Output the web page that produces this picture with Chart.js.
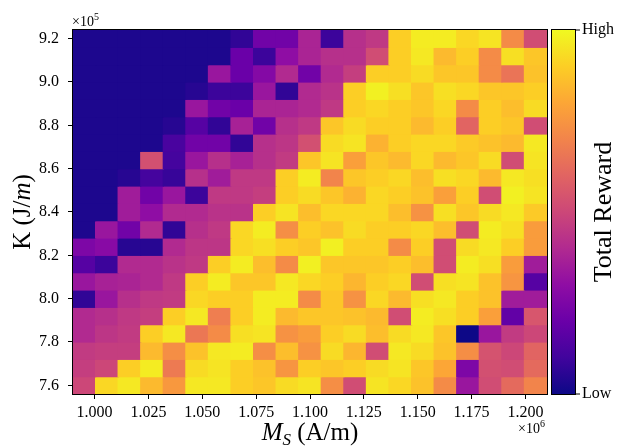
<!DOCTYPE html>
<html>
<head>
<meta charset="utf-8">
<script src="https://cdn.jsdelivr.net/npm/chart.js@4.4.0/dist/chart.umd.min.js"></script>
<style>
  html, body { margin: 0; padding: 0; background: #fff; }
  #wrap { width: 618px; height: 447px; }
</style>
</head>
<body>
<div id="wrap"><canvas id="heat" width="618" height="447"></canvas></div>
<script>
// M_S cell centres (x10^6 A/m), left to right
const msValues = [0.99524, 1.00571, 1.01619, 1.02667, 1.03714, 1.04762, 1.05810,
                  1.06857, 1.07905, 1.08952, 1.10000, 1.11048, 1.12095, 1.13143,
                  1.14190, 1.15238, 1.16286, 1.17333, 1.18381, 1.19429, 1.20476];
// K cell centres (x10^5 J/m), top row first
const kValues = [9.20, 9.12, 9.04, 8.96, 8.88, 8.80, 8.72, 8.64, 8.56, 8.48, 8.40,
                 8.32, 8.24, 8.16, 8.08, 8.00, 7.92, 7.84, 7.76, 7.68, 7.60];
const msTicks = [1.000, 1.025, 1.050, 1.075, 1.100, 1.125, 1.150, 1.175, 1.200];
const kTicks = [7.6, 7.8, 8.0, 8.2, 8.4, 8.6, 8.8, 9.0, 9.2];

// normalised total reward, one array per K row (0 = low, 1 = high)
const k920 = [0.03, 0.03, 0.03, 0.03, 0.03, 0.03, 0.03, 0.07, 0.22, 0.22, 0.38, 0.09, 0.42, 0.45, 0.90, 0.97, 0.97, 0.92, 0.95, 0.72, 0.52];
const k912 = [0.03, 0.03, 0.03, 0.03, 0.03, 0.03, 0.03, 0.20, 0.09, 0.30, 0.38, 0.42, 0.42, 0.52, 0.90, 0.96, 0.85, 0.90, 0.72, 0.94, 0.88];
const k904 = [0.03, 0.03, 0.03, 0.03, 0.03, 0.03, 0.33, 0.20, 0.27, 0.40, 0.22, 0.40, 0.47, 0.90, 0.90, 0.93, 0.88, 0.88, 0.72, 0.65, 0.87];
const k896 = [0.03, 0.03, 0.03, 0.03, 0.03, 0.05, 0.09, 0.09, 0.33, 0.07, 0.40, 0.43, 0.90, 0.98, 0.94, 0.88, 0.94, 0.92, 0.88, 0.88, 0.90];
const k888 = [0.03, 0.03, 0.03, 0.03, 0.03, 0.33, 0.22, 0.20, 0.38, 0.38, 0.40, 0.45, 0.90, 0.92, 0.90, 0.88, 0.92, 0.72, 0.90, 0.86, 0.93];
const k880 = [0.03, 0.03, 0.03, 0.03, 0.05, 0.15, 0.07, 0.37, 0.22, 0.42, 0.45, 0.88, 0.93, 0.90, 0.90, 0.85, 0.90, 0.60, 0.90, 0.88, 0.52];
const k872 = [0.03, 0.03, 0.03, 0.03, 0.12, 0.22, 0.22, 0.07, 0.42, 0.44, 0.53, 0.93, 0.95, 0.83, 0.90, 0.92, 0.92, 0.89, 0.87, 0.85, 0.96];
const k864 = [0.03, 0.03, 0.03, 0.53, 0.11, 0.33, 0.42, 0.37, 0.42, 0.46, 0.88, 0.95, 0.78, 0.88, 0.85, 0.92, 0.85, 0.88, 0.93, 0.52, 0.95];
const k856 = [0.03, 0.03, 0.05, 0.11, 0.08, 0.42, 0.35, 0.45, 0.45, 0.90, 0.97, 0.70, 0.88, 0.90, 0.92, 0.86, 0.94, 0.92, 0.85, 0.96, 0.94];
const k848 = [0.03, 0.03, 0.35, 0.22, 0.33, 0.09, 0.45, 0.45, 0.47, 0.90, 0.93, 0.88, 0.83, 0.92, 0.90, 0.87, 0.78, 0.90, 0.52, 0.98, 0.95];
const k840 = [0.03, 0.03, 0.35, 0.30, 0.40, 0.40, 0.43, 0.43, 0.90, 0.95, 0.86, 0.92, 0.92, 0.92, 0.86, 0.74, 0.94, 0.88, 0.93, 0.96, 0.89];
const k832 = [0.03, 0.33, 0.22, 0.40, 0.07, 0.42, 0.45, 0.92, 0.97, 0.73, 0.90, 0.87, 0.93, 0.90, 0.90, 0.92, 0.86, 0.52, 0.97, 0.94, 0.77];
const k824 = [0.25, 0.28, 0.05, 0.05, 0.40, 0.44, 0.44, 0.92, 0.94, 0.90, 0.88, 0.98, 0.90, 0.90, 0.72, 0.90, 0.52, 0.93, 0.96, 0.90, 0.77];
const k816 = [0.15, 0.09, 0.40, 0.40, 0.43, 0.45, 0.90, 0.97, 0.86, 0.72, 0.98, 0.88, 0.88, 0.88, 0.90, 0.86, 0.52, 0.97, 0.94, 0.77, 0.35];
const k808 = [0.33, 0.37, 0.38, 0.40, 0.45, 0.90, 0.97, 0.88, 0.88, 0.96, 0.92, 0.90, 0.84, 0.90, 0.92, 0.52, 0.94, 0.95, 0.87, 0.75, 0.15];
const k800 = [0.07, 0.33, 0.42, 0.45, 0.46, 0.92, 0.90, 0.90, 0.97, 0.97, 0.72, 0.88, 0.74, 0.92, 0.85, 0.94, 0.96, 0.90, 0.87, 0.35, 0.35];
const k792 = [0.40, 0.42, 0.45, 0.47, 0.90, 0.96, 0.68, 0.90, 0.97, 0.85, 0.88, 0.88, 0.87, 0.85, 0.52, 0.97, 0.94, 0.90, 0.78, 0.18, 0.55];
const k784 = [0.40, 0.44, 0.46, 0.90, 0.96, 0.66, 0.72, 0.94, 0.95, 0.74, 0.77, 0.90, 0.93, 0.86, 0.93, 0.96, 0.88, 0.00, 0.33, 0.46, 0.50];
const k776 = [0.46, 0.47, 0.47, 0.85, 0.73, 0.87, 0.96, 0.97, 0.73, 0.86, 0.74, 0.93, 0.84, 0.52, 0.96, 0.93, 0.87, 0.73, 0.54, 0.50, 0.60];
const k768 = [0.47, 0.50, 0.90, 0.97, 0.67, 0.93, 0.95, 0.90, 0.87, 0.75, 0.90, 0.88, 0.90, 0.93, 0.95, 0.88, 0.80, 0.25, 0.53, 0.52, 0.62];
const k760 = [0.50, 0.92, 0.96, 0.85, 0.76, 0.96, 0.96, 0.90, 0.88, 0.93, 0.95, 0.73, 0.52, 0.95, 0.92, 0.87, 0.72, 0.33, 0.52, 0.62, 0.70];

const rewardRows = [k920, k912, k904, k896, k888, k880, k872, k864, k856, k848, k840,
                    k832, k824, k816, k808, k800, k792, k784, k776, k768, k760];

// plasma colormap control points
const plasmaStops = ['#0d0887', '#41049d', '#6a00a8', '#8f0da4', '#b12a90', '#cc4778',
                     '#e16462', '#f2844b', '#fca636', '#fcce25', '#f0f921'];

function hexToRgb(h) {
    return [parseInt(h.slice(1, 3), 16), parseInt(h.slice(3, 5), 16), parseInt(h.slice(5, 7), 16)];
}

function plasma(t) {
    t = Math.max(0, Math.min(1, t));
    const pos = t * (plasmaStops.length - 1);
    const i = Math.min(Math.floor(pos), plasmaStops.length - 2);
    const f = pos - i;
    const a = hexToRgb(plasmaStops[i]);
    const b = hexToRgb(plasmaStops[i + 1]);
    const c = a.map((v, k) => Math.round(v + (b[k] - v) * f));
    return `rgb(${c[0]},${c[1]},${c[2]})`;
}

const serif = "'Liberation Serif', 'DejaVu Serif', serif";
const kHalf = (kValues[0] - kValues[1]) / 2;

const datasets = rewardRows.map((row, r) => ({
    data: msValues.map(ms => ({ x: ms, y: [kValues[r] - kHalf, kValues[r] + kHalf] })),
    backgroundColor: row.map(v => plasma(v)),
    borderWidth: 0,
    inflateAmount: 0.6,
    grouped: false,
    barPercentage: 1,
    categoryPercentage: 1
}));

// draws text pieces left to right; each piece is [text, font, dy]
function drawPieces(ctx, pieces, x, y, align) {
    let total = 0;
    pieces.forEach(p => { ctx.font = p[1]; total += ctx.measureText(p[0]).width; });
    let cx = align === 'center' ? x - total / 2 : (align === 'right' ? x - total : x);
    pieces.forEach(p => {
        ctx.font = p[1];
        ctx.fillText(p[0], cx, y + (p[2] || 0));
        cx += ctx.measureText(p[0]).width;
    });
}

const decorations = {
    id: 'decorations',
    afterDraw(chart) {
        const { ctx, chartArea: a } = chart;
        ctx.save();
        ctx.fillStyle = '#000';
        ctx.strokeStyle = '#000';
        ctx.lineWidth = 1;
        ctx.textBaseline = 'alphabetic';
        ctx.textAlign = 'left';

        // plot frame
        ctx.strokeRect(a.left - 0.5, a.top - 0.5, a.right - a.left + 1, a.bottom - a.top + 1);

        // colorbar
        const cbLeft = a.right + 5, cbWidth = 23;
        const grad = ctx.createLinearGradient(0, a.bottom, 0, a.top);
        plasmaStops.forEach((c, i) => grad.addColorStop(i / (plasmaStops.length - 1), c));
        ctx.fillStyle = grad;
        ctx.fillRect(cbLeft, a.top, cbWidth, a.bottom - a.top);
        ctx.strokeRect(cbLeft - 0.5, a.top - 0.5, cbWidth + 1, a.bottom - a.top + 1);
        ctx.beginPath();
        ctx.moveTo(cbLeft + cbWidth, a.top); ctx.lineTo(cbLeft + cbWidth + 5, a.top);
        ctx.moveTo(cbLeft + cbWidth, a.bottom); ctx.lineTo(cbLeft + cbWidth + 5, a.bottom);
        ctx.stroke();
        ctx.fillStyle = '#000';
        ctx.font = `16px ${serif}`;
        ctx.textBaseline = 'middle';
        ctx.fillText('High', cbLeft + cbWidth + 7, a.top);
        ctx.fillText('Low', cbLeft + cbWidth + 7, a.bottom);
        ctx.textBaseline = 'alphabetic';

        ctx.save();
        ctx.translate(611, (a.top + a.bottom) / 2);
        ctx.rotate(-Math.PI / 2);
        drawPieces(ctx, [['Total Reward', `26px ${serif}`]], 0, 0, 'center');
        ctx.restore();

        // y axis title
        ctx.save();
        ctx.translate(30, (a.top + a.bottom) / 2);
        ctx.rotate(-Math.PI / 2);
        drawPieces(ctx, [['K (J/', `25px ${serif}`], ['m', `italic 25px ${serif}`], [')', `25px ${serif}`]], 0, 0, 'center');
        ctx.restore();

        // x axis title
        drawPieces(ctx, [['M', `italic 25px ${serif}`], ['S', `italic 17px ${serif}`, 5],
                         [' (A/m)', `25px ${serif}`]], (a.left + a.right) / 2, 440, 'center');

        // offset texts
        drawPieces(ctx, [['\u00d710', `14px ${serif}`], ['5', `10px ${serif}`, -6]], a.left - 1, a.top - 4, 'left');
        drawPieces(ctx, [['\u00d710', `14px ${serif}`], ['6', `10px ${serif}`, -6]], a.right - 2, 433, 'right');

        ctx.restore();
    }
};

new Chart(document.getElementById('heat').getContext('2d'), {
    type: 'bar',
    data: { datasets: datasets },
    options: {
        responsive: false,
        animation: false,
        events: [],
        layout: { padding: { top: 30, right: 71, left: 0, bottom: 0 } },
        plugins: { legend: { display: false }, tooltip: { enabled: false } },
        scales: {
            x: {
                type: 'linear',
                min: 0.99,
                max: 1.21,
                offset: false,
                afterBuildTicks: s => { s.ticks = msTicks.map(v => ({ value: v })); },
                afterFit: s => { s.height = 53; },
                grid: { display: true, drawOnChartArea: false, offset: false, tickLength: 5, tickColor: '#000', tickWidth: 1 },
                border: { display: false },
                ticks: {
                    callback: v => v.toFixed(3),
                    font: { family: serif, size: 16 },
                    color: '#000',
                    padding: 4,
                    maxRotation: 0,
                    autoSkip: false
                }
            },
            y: {
                type: 'linear',
                min: kValues[kValues.length - 1] - kHalf,
                max: kValues[0] + kHalf,
                afterBuildTicks: s => { s.ticks = kTicks.map(v => ({ value: v })); },
                afterFit: s => { s.width = 73; },
                grid: { display: true, drawOnChartArea: false, tickLength: 5, tickColor: '#000', tickWidth: 1 },
                border: { display: false },
                ticks: {
                    callback: v => v.toFixed(1),
                    font: { family: serif, size: 16 },
                    color: '#000',
                    padding: 9
                }
            }
        }
    },
    plugins: [decorations]
});
</script>
</body>
</html>
